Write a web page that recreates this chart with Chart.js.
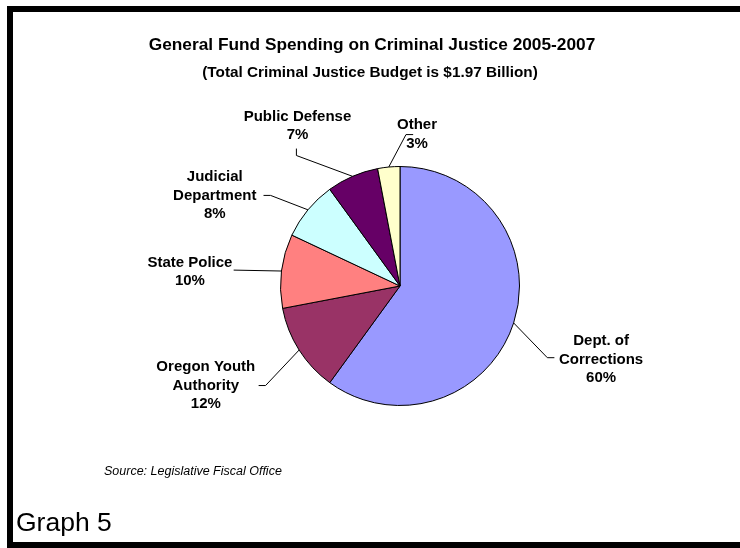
<!DOCTYPE html>
<html>
<head>
<meta charset="utf-8">
<script src="https://cdn.jsdelivr.net/npm/chart.js@4/dist/chart.umd.min.js"></script>
<style>
  html, body { margin: 0; padding: 0; background: #fff; }
  #wrap { position: relative; width: 740px; height: 548px; overflow: hidden; }
  #frame { position: absolute; left: 7px; top: 6px; width: 800px; height: 530px; border: 6px solid #000; pointer-events: none; }
  canvas { position: absolute; left: 0; top: 0; }
</style>
</head>
<body>
<div id="wrap">
  <canvas id="c" width="740" height="548"></canvas>
  <div id="frame"></div>
</div>
<script>
// ---- data ----
const categories = ['Dept. of Corrections', 'Oregon Youth Authority', 'State Police', 'Judicial Department', 'Public Defense', 'Other'];
const values = [60, 12, 10, 8, 7, 3];
const labelNameLines = [
  ['Dept. of', 'Corrections'],
  ['Oregon Youth', 'Authority'],
  ['State Police'],
  ['Judicial', 'Department'],
  ['Public Defense'],
  ['Other']
];
const sliceColors = ['#9999FF', '#993366', '#FF8080', '#CCFFFF', '#660066', '#FFFFCC'];
const titleText = 'General Fund Spending on Criminal Justice 2005-2007';
const subtitleText = '(Total Criminal Justice Budget is $1.97 Billion)';
const sourceText = 'Source: Legislative Fiscal Office';
const graphLabel = 'Graph 5';

// label layout, in units of the pie radius relative to pie centre
const labelCenters = [[1.683, 0.617], [-1.625, 0.833], [-1.758, -0.117], [-1.55, -0.758], [-0.858, -1.342], [0.142, -1.267]];
const leaderElbows = [[1.233, 0.60], [-1.125, 0.833], [-1.392, -0.133], [-1.083, -0.758], [-0.867, -1.092], [0.05, -1.267]];
const leaderEnds   = [[1.292, 0.60], [-1.183, 0.833], [-1.392, -0.133], [-1.142, -0.758], [-0.867, -1.15], [0.11, -1.267]];

const FONT = 'Arial, "Liberation Sans", sans-serif';

const labelPlugin = {
  id: 'labels',
  afterDatasetsDraw(chart) {
    const ctx = chart.ctx;
    const meta = chart.getDatasetMeta(0);
    ctx.save();
    meta.data.forEach((arc, i) => {
      const p = arc.getProps(['x', 'y', 'startAngle', 'endAngle', 'outerRadius'], true);
      const mid = (p.startAngle + p.endAngle) / 2;
      const r = p.outerRadius;
      const ax = p.x + r * Math.cos(mid), ay = p.y + r * Math.sin(mid);
      const ex = p.x + leaderElbows[i][0] * r, ey = p.y + leaderElbows[i][1] * r;
      const nx = p.x + leaderEnds[i][0] * r, ny = p.y + leaderEnds[i][1] * r;
      ctx.strokeStyle = '#000';
      ctx.lineWidth = 1;
      ctx.beginPath();
      ctx.moveTo(ax, ay);
      ctx.lineTo(ex, ey);
      ctx.lineTo(nx, ny);
      ctx.stroke();
      const lines = labelNameLines[i].concat([values[i] + '%']);
      const lh = 18.5;
      const cx = p.x + labelCenters[i][0] * r, cy = p.y + labelCenters[i][1] * r;
      ctx.fillStyle = '#000';
      ctx.font = 'bold 15px ' + FONT;
      ctx.textAlign = 'center';
      ctx.textBaseline = 'middle';
      lines.forEach((t, k) => {
        ctx.fillText(t, cx, cy + (k - (lines.length - 1) / 2) * lh);
      });
    });
    // titles and notes
    ctx.textAlign = 'center';
    ctx.textBaseline = 'middle';
    ctx.font = 'bold 17.3px ' + FONT;
    ctx.fillText(titleText, 372, 45);
    ctx.font = 'bold 15.3px ' + FONT;
    ctx.fillText(subtitleText, 370, 73);
    ctx.font = 'italic 12.5px ' + FONT;
    ctx.textAlign = 'left';
    ctx.fillText(sourceText, 104, 472);
    ctx.font = '26.5px ' + FONT;
    ctx.fillText(graphLabel, 16, 524);
    ctx.restore();
  }
};

new Chart(document.getElementById('c'), {
  type: 'pie',
  data: {
    labels: categories,
    datasets: [{
      data: values,
      backgroundColor: sliceColors,
      borderColor: '#000',
      borderWidth: 1
    }]
  },
  options: {
    responsive: false,
    animation: false,
    devicePixelRatio: 1,
    layout: { padding: { left: 280, right: 220, top: 166, bottom: 142 } },
    plugins: {
      legend: { display: false },
      tooltip: { enabled: false },
      title: { display: false }
    }
  },
  plugins: [labelPlugin]
});
</script>
</body>
</html>
